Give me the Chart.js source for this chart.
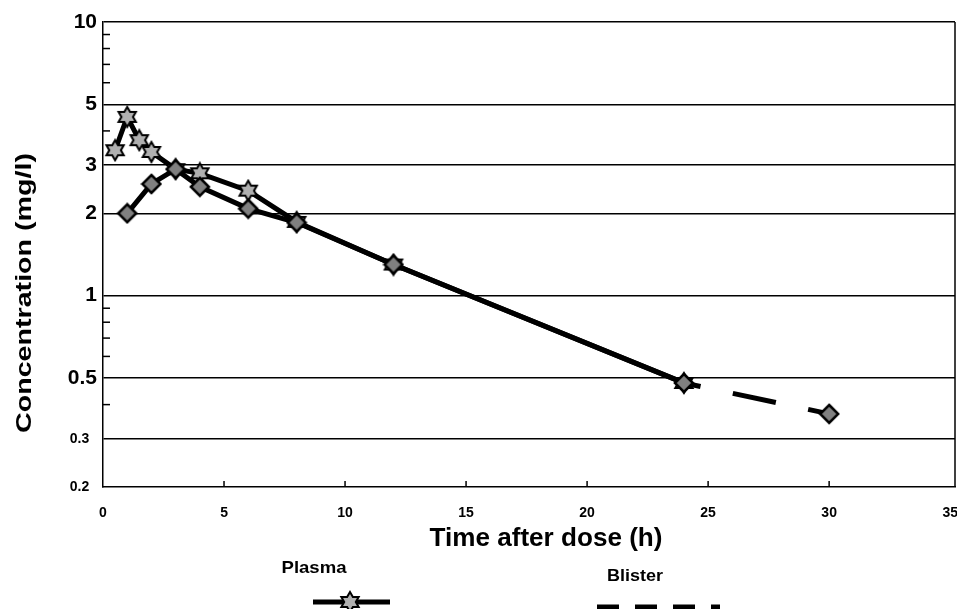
<!DOCTYPE html>
<html>
<head>
<meta charset="utf-8">
<script src="https://cdn.jsdelivr.net/npm/chart.js@4"></script>
<style>
  html, body { margin: 0; padding: 0; background: #fff; overflow: hidden; }
  #myChart { display: block; }
</style>
</head>
<body>
<canvas id="myChart" width="968" height="609"></canvas>
<script>
// data
const plasmaHours = [0.5, 1, 1.5, 2, 3, 4, 6, 8, 12, 24];
const plasmaConc = [3.4, 4.5, 3.7, 3.35, 2.9, 2.8, 2.42, 1.86, 1.3, 0.48];
const blisterHours = [1, 2, 3, 4, 6, 8, 12, 24, 30];
const blisterConc = [2.0, 2.56, 2.9, 2.5, 2.08, 1.85, 1.3, 0.48, 0.37];
const xTicks = [0, 5, 10, 15, 20, 25, 30, 35];
const yTicks = [0.2, 0.3, 0.5, 1, 2, 3, 5, 10];
const yMinor = [0.4, 0.6, 0.7, 0.8, 0.9, 4, 6, 7, 8, 9];

const FONT = "Arial, 'Liberation Sans', sans-serif";
const NARROW = "'Liberation Sans Narrow', Arial, 'Liberation Sans', sans-serif";

function makeStar(r) {
    const c = document.createElement('canvas');
    const s = Math.ceil(r * 2 + 4);
    c.width = s; c.height = s;
    const g = c.getContext('2d');
    g.translate(s / 2, s / 2);
    g.beginPath();
    for (let i = 0; i < 12; i++) {
        const a = -Math.PI / 2 + i * Math.PI / 6;
        const rr = i % 2 === 0 ? r : r * 0.58;
        g.lineTo(rr * Math.cos(a), rr * Math.sin(a));
    }
    g.closePath();
    g.fillStyle = '#b0b0b0';
    g.fill();
    g.lineWidth = 2;
    g.strokeStyle = '#000';
    g.stroke();
    return c;
}

function makeDiamond(r) {
    const c = document.createElement('canvas');
    const s = Math.ceil(r * 2 + 4);
    c.width = s; c.height = s;
    const g = c.getContext('2d');
    g.translate(s / 2, s / 2);
    g.beginPath();
    g.moveTo(0, -r); g.lineTo(r, 0); g.lineTo(0, r); g.lineTo(-r, 0);
    g.closePath();
    g.fillStyle = '#808080';
    g.fill();
    g.lineWidth = 2.5;
    g.strokeStyle = '#000';
    g.stroke();
    return c;
}

const starImg = makeStar(10);
const diamondImg = makeDiamond(9);

// draws text stretched to a given width
function fitText(g, text, x, y, font, width, rotate) {
    g.save();
    g.font = font;
    const w = g.measureText(text).width;
    g.translate(x, y);
    if (rotate) g.rotate(-Math.PI / 2);
    g.scale(width / w, 1);
    g.textAlign = 'center';
    g.textBaseline = 'middle';
    g.fillStyle = '#000';
    g.fillText(text, 0, 0);
    g.restore();
}

const extras = {
    id: 'extras',
    afterDraw(chart) {
        const g = chart.ctx;
        const area = chart.chartArea;
        const ys = chart.scales.y;
        const xs = chart.scales.x;
        g.save();
        g.strokeStyle = '#000';
        g.lineWidth = 1.5;
        g.beginPath();
        g.moveTo(area.right, area.top);
        g.lineTo(area.right, area.bottom);
        g.stroke();
        yMinor.forEach(v => {
            const p = ys.getPixelForValue(v);
            g.beginPath();
            g.moveTo(area.left, p);
            g.lineTo(area.left + 7, p);
            g.stroke();
        });
        xTicks.forEach(v => {
            if (v === 0 || v === 35) return;
            const p = xs.getPixelForValue(v);
            g.beginPath();
            g.moveTo(p, area.bottom);
            g.lineTo(p, area.bottom - 6);
            g.stroke();
        });

        // axis titles
        fitText(g, 'Concentration (mg/l)', 25, 293, 'bold 22px ' + FONT, 280, true);
        fitText(g, 'Time after dose (h)', 546, 539, 'bold 26px ' + FONT, 233, false);

        // legend, cut by the bottom edge like the reference
        fitText(g, 'Plasma', 314, 568, 'bold 17px ' + FONT, 65, false);
        fitText(g, 'Blister', 635, 576, 'bold 17px ' + FONT, 56, false);

        g.lineWidth = 5;
        g.beginPath();
        g.moveTo(313, 602);
        g.lineTo(390, 602);
        g.stroke();
        g.drawImage(starImg, 350 - starImg.width / 2, 602 - starImg.height / 2);

        g.setLineDash([22, 16]);
        g.beginPath();
        g.moveTo(597, 607);
        g.lineTo(720, 607);
        g.stroke();
        g.setLineDash([]);
        g.drawImage(diamondImg, 641 - diamondImg.width / 2, 617 - diamondImg.height / 2);
        g.restore();
    }
};

const ctx = document.getElementById('myChart');

new Chart(ctx, {
    type: 'line',
    data: {
        datasets: [
            {
                label: 'Blister',
                data: blisterHours.map((h, i) => ({ x: h, y: blisterConc[i] })),
                borderColor: '#000',
                borderWidth: 5,
                pointStyle: diamondImg,
                tension: 0,
                segment: {
                    borderDash: c => c.p0.parsed.x >= 24 ? [44, 33] : undefined,
                    borderDashOffset: c => c.p0.parsed.x >= 24 ? 27 : undefined
                }
            },
            {
                label: 'Plasma',
                data: plasmaHours.map((h, i) => ({ x: h, y: plasmaConc[i] })),
                borderColor: '#000',
                borderWidth: 5,
                pointStyle: starImg,
                tension: 0
            }
        ]
    },
    options: {
        responsive: false,
        animation: false,
        devicePixelRatio: 1,
        layout: {
            padding: { left: 0, right: 0, top: 22, bottom: 62 }
        },
        plugins: {
            legend: { display: false },
            title: { display: false },
            tooltip: { enabled: false }
        },
        scales: {
            x: {
                type: 'linear',
                min: 0,
                max: 35.2,
                afterBuildTicks: scale => { scale.ticks = xTicks.map(v => ({ value: v })); },
                afterFit: scale => { scale.height = 60; },
                grid: { display: false },
                border: { display: true, color: '#000', width: 1.5 },
                ticks: {
                    color: '#000',
                    padding: 10,
                    maxRotation: 0,
                    font: { family: NARROW, weight: 'bold', size: 14 }
                }
            },
            y: {
                type: 'logarithmic',
                min: 0.2,
                max: 10,
                afterBuildTicks: scale => { scale.ticks = yTicks.map(v => ({ value: v })); },
                afterFit: scale => {
                    scale.width = 103;
                    scale.paddingTop = 0;
                    scale.paddingBottom = 0;
                },
                grid: {
                    color: c => (c.tick && c.tick.value === 0.2) ? 'rgba(0,0,0,0)' : '#000',
                    lineWidth: 1.5,
                    drawTicks: false
                },
                border: { display: true, color: '#000', width: 1.5 },
                ticks: {
                    color: '#000',
                    padding: 6,
                    callback: v => v < 0.4 ? v + '  ' : String(v),
                    font: c => ({
                        family: FONT,
                        weight: 'bold',
                        size: (c.tick && c.tick.value < 0.4) ? 14 : 21
                    })
                }
            }
        }
    },
    plugins: [extras]
});
</script>
</body>
</html>
